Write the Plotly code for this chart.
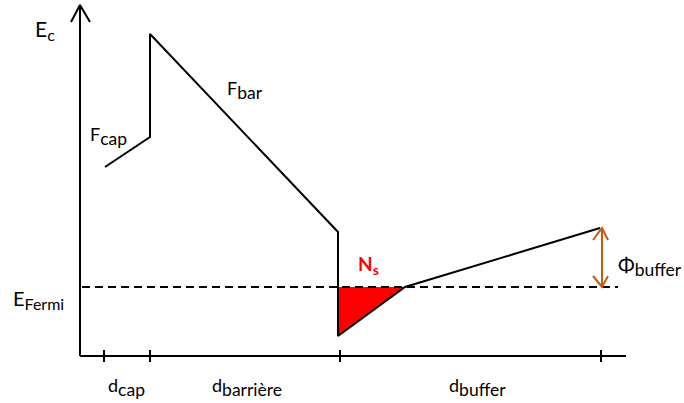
import plotly.graph_objects as go

# ---- schematic band-diagram data (x = depth position, y = energy, arbitrary units) ----
tick_positions = [104, 150, 340, 601]
band_x = [105, 150, 150, 338, 338, 405, 600]
band_y = [236, 266, 369, 171, 67, 116, 175]
fermi_level = 116
fermi_x = [82, 618]
well_x = [338, 405, 338]
well_y = [116, 116, 67]
phi_x = 602
phi_y = [116, 175]
axis_origin = [80, 47]
axis_x_end = 626
axis_y_end = 398
layer_main = ["d", "d", "d"]
layer_subs = ["cap", "barrière", "buffer"]
label_x = [106, 210, 447]

FONT = "Lato"
BLACK = "#000000"
ORANGE = "#c55a11"
RED = "#ff0000"

fig = go.Figure()

def line(xs, ys, color=BLACK, width=2, dash=None):
    fig.add_trace(go.Scatter(x=xs, y=ys, mode="lines",
                             line=dict(color=color, width=width, dash=dash),
                             hoverinfo="skip", showlegend=False))

# filled 2DEG well
fig.add_trace(go.Scatter(x=well_x + [well_x[0]], y=well_y + [well_y[0]], mode="lines",
                         fill="toself", fillcolor=RED, line=dict(color=RED, width=0),
                         hoverinfo="skip", showlegend=False))

# Fermi level (dashed)
line(fermi_x, [fermi_level, fermi_level], dash="8px,5px")

# band profile
line(band_x, band_y)

# axes
ox, oy = axis_origin
line([ox, ox], [oy, axis_y_end])
line([ox - 9, ox, ox + 10], [axis_y_end - 17, axis_y_end, axis_y_end - 17])
line([ox, axis_x_end], [oy, oy])
for t in tick_positions:
    line([t, t], [oy - 6, oy + 6])

# Phi arrow (double headed)
line([phi_x, phi_x], phi_y, color=ORANGE, width=2)
line([phi_x - 9, phi_x, phi_x + 6], [phi_y[1] - 12, phi_y[1], phi_y[1] - 12], color=ORANGE, width=2)
line([phi_x - 9, phi_x, phi_x + 6], [phi_y[0] + 11, phi_y[0], phi_y[0] + 11], color=ORANGE, width=2)

def text(x, y, main, sub, size=18, subsize=17.5, color=BLACK, bold=False):
    s = f"{main}<sub><span style='font-size:{subsize}px'>{sub}</span></sub>"
    if bold:
        s = "<b>" + s + "</b>"
    fig.add_annotation(x=x, y=y, text=s, showarrow=False, xanchor="left", yanchor="middle",
                       font=dict(family=FONT, size=size, color=color), xref="x", yref="y")

text(33, 403 - 30, "E", "c", size=21, subsize=16)
text(88, 403 - 136, "F", "cap")
text(225, 403 - 90, "F", "bar")
text(11, 403 - 299, "E", "Fermi", size=20, subsize=16)
text(356, 403 - 265, "N", "s", size=19, subsize=14, color=RED, bold=True)
text(616, 403 - 266, "Φ", "buffer", size=20, subsize=17.5)
for lx, m, sb in zip(label_x, layer_main, layer_subs):
    text(lx, 403 - 387, m, sb)

fig.update_layout(width=684, height=403, autosize=False,
                  margin=dict(l=0, r=0, t=0, b=0),
                  paper_bgcolor="white", plot_bgcolor="white",
                  xaxis=dict(range=[0, 684], visible=False, fixedrange=True),
                  yaxis=dict(range=[0, 403], visible=False, fixedrange=True),
                  showlegend=False)

fig.write_html("out.html", config={"displayModeBar": False},
               post_script="document.body.style.margin='0';document.body.style.overflow='hidden';")
